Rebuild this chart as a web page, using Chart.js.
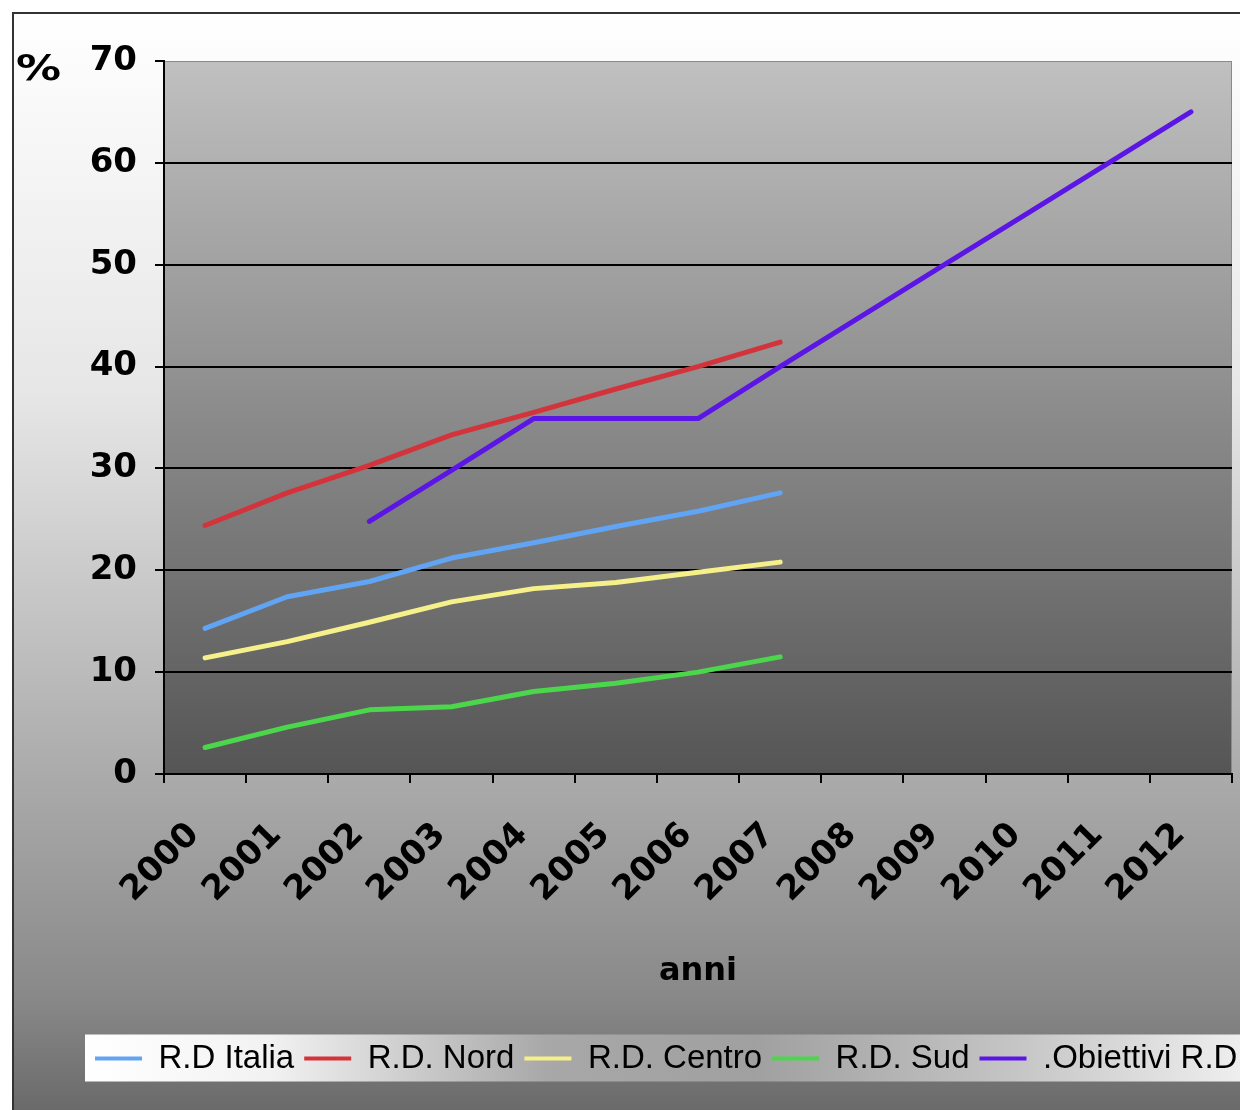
<!DOCTYPE html>
<html>
<head>
<meta charset="utf-8">
<script src="https://cdn.jsdelivr.net/npm/chart.js@4.4.1/dist/chart.umd.min.js"></script>
<style>
  html, body { margin: 0; padding: 0; overflow: hidden; background: #fff; }
  #wrap { width: 1300px; height: 1110px; }
</style>
</head>
<body>
<div id="wrap"><canvas id="line-chart" width="1300" height="1110"></canvas></div>
<script>
// anni e valori (%)
const anni = ["2000", "2001", "2002", "2003", "2004", "2005", "2006", "2007", "2008", "2009", "2010", "2011", "2012"];
const rdItalia = [14.3, 17.4, 18.9, 21.2, 22.7, 24.3, 25.8, 27.6];
const rdNord = [24.4, 27.6, 30.3, 33.3, 35.5, 37.8, 40.0, 42.4];
const rdCentro = [11.4, 13.0, 14.9, 16.9, 18.2, 18.8, 19.8, 20.8];
const rdSud = [2.6, 4.6, 6.3, 6.6, 8.1, 8.9, 10.0, 11.5];
const obiettivi = [null, null, 24.8, 29.8, 34.9, 34.9, 34.9, 40, 45, 50, 55, 60, 65];
const etichette = ["R.D Italia", "R.D. Nord", "R.D. Centro", "R.D. Sud", ".Obiettivi R.D"];
const colori = ["#62a4f4", "#d3343c", "#f6f08a", "#4cd64c", "#5b16e6"];

const fondo = {
  id: 'fondo',
  beforeDraw(chart) {
    const { ctx, chartArea: a, width, height } = chart;
    ctx.save();
    ctx.fillStyle = '#fff';
    ctx.fillRect(0, 0, width, height);
    // sfondo esterno
    let g = ctx.createLinearGradient(0, 13, 0, 1110);
    g.addColorStop(0, '#ffffff');
    g.addColorStop(0.35, '#e6e6e6');
    g.addColorStop(0.70, '#aaaaaa');
    g.addColorStop(0.90, '#888888');
    g.addColorStop(1, '#6a6a6a');
    ctx.fillStyle = g;
    ctx.fillRect(13, 13, width, height);
    ctx.strokeStyle = '#333';
    ctx.lineWidth = 2;
    ctx.strokeRect(13, 13, width, height);
    // area del grafico
    g = ctx.createLinearGradient(0, a.top, 0, a.bottom);
    g.addColorStop(0, '#c0c0c0');
    g.addColorStop(1, '#555555');
    ctx.fillStyle = g;
    ctx.fillRect(a.left, a.top, a.width, a.height);
    ctx.strokeStyle = '#8a8a8a';
    ctx.lineWidth = 1;
    ctx.strokeRect(a.left + 0.5, a.top + 0.5, a.width - 1, a.height);
    // riquadro legenda
    const hb = chart.legend.legendHitBoxes;
    if (hb && hb.length) {
      const cy = hb[0].top + hb[0].height / 2;
      const x0 = hb[0].left - 10;
      g = ctx.createLinearGradient(x0, 0, 1240, 0);
      g.addColorStop(0, '#ffffff');
      g.addColorStop(0.16, '#f2f2f2');
      g.addColorStop(0.40, '#a8a8a8');
      g.addColorStop(0.58, '#a0a0a0');
      g.addColorStop(0.80, '#c4c4c4');
      g.addColorStop(1, '#eeeeee');
      ctx.fillStyle = g;
      ctx.fillRect(x0, cy - 24, width, 47);
    }
    ctx.restore();
  },
  afterDraw(chart) {
    const ctx = chart.ctx;
    ctx.save();
    ctx.fillStyle = '#000';
    ctx.font = 'bold 36px "DejaVu Sans"';
    ctx.textBaseline = 'middle';
    ctx.textAlign = 'left';
    ctx.translate(16, 71);
    ctx.scale(1.25, 1);
    ctx.fillText('%', 0, 0);
    ctx.restore();
  }
};

const serie = [rdItalia, rdNord, rdCentro, rdSud, obiettivi];

new Chart(document.getElementById("line-chart"), {
  type: 'line',
  data: {
    labels: anni,
    datasets: serie.map((d, i) => ({
      label: etichette[i],
      data: d,
      borderColor: colori[i],
      backgroundColor: colori[i],
      borderWidth: 5,
      pointRadius: 0,
      tension: 0,
      borderJoinStyle: 'round',
      borderCapStyle: 'round',
      fill: false
    }))
  },
  options: {
    responsive: false,
    animation: false,
    devicePixelRatio: 1,
    layout: { padding: { left: 85, right: 0, top: 61, bottom: 25 } },
    scales: {
      x: {
        offset: true,
        grid: { offset: true, drawOnChartArea: false, tickColor: '#000', tickLength: 9, lineWidth: 2 },
        border: { color: '#000', width: 2 },
        ticks: {
          autoSkip: false, minRotation: 45, maxRotation: 45, padding: 32, labelOffset: -11,
          color: '#000', font: { family: 'DejaVu Sans', weight: 'bold', size: 34 }
        },
        title: {
          display: true, text: 'anni', color: '#000',
          font: { family: 'DejaVu Sans', weight: 'bold', size: 32 },
          padding: { top: 0, bottom: 41 }
        },
        afterFit(s) { s.height = 258; }
      },
      y: {
        min: 0, max: 70,
        ticks: {
          stepSize: 10, padding: 18, color: '#000',
          font: { family: 'DejaVu Sans', weight: 'bold', size: 34 }
        },
        grid: {
          color: c => c.tick && c.tick.value === 70 ? 'rgba(0,0,0,0)' : '#000',
          tickColor: '#000', tickLength: 9, lineWidth: 2
        },
        border: { color: '#000', width: 2 },
        afterFit(s) { s.width = 164 - 85; }
      },
      y2: {
        position: 'right',
        display: true,
        grid: { display: false },
        ticks: { display: false },
        border: { display: false },
        afterFit(s) { s.width = 1300 - 1232; }
      }
    },
    plugins: {
      tooltip: { enabled: false },
      legend: {
        position: 'bottom',
        align: 'start',
        labels: {
          color: '#000',
          font: { family: 'Liberation Sans', size: 33 },
          boxWidth: 47, boxHeight: 4, padding: 10,
          generateLabels(chart) {
            return chart.data.datasets.map((ds, i) => ({
              text: ds.label,
              fillStyle: ds.borderColor,
              strokeStyle: ds.borderColor,
              lineWidth: 0,
              hidden: false,
              datasetIndex: i
            }));
          }
        }
      }
    }
  },
  plugins: [fondo]
});
</script>
</body>
</html>
